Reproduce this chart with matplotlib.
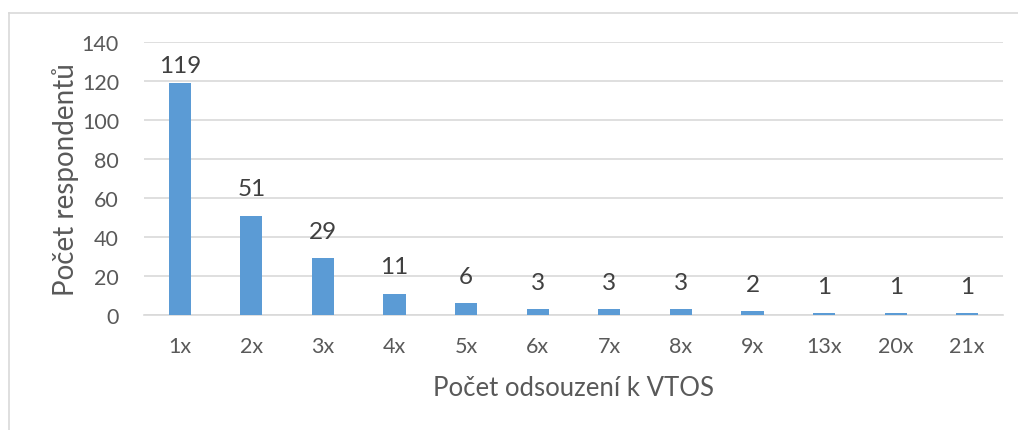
import numpy as np
import matplotlib.pyplot as plt
from matplotlib.lines import Line2D

plt.rcParams['font.family'] = ['Lato', 'DejaVu Sans']

# data
kategorie = ['1x', '2x', '3x', '4x', '5x', '6x', '7x', '8x', '9x', '13x', '20x', '21x']
pocty = [119, 51, 29, 11, 6, 3, 3, 3, 2, 1, 1, 1]

fig = plt.figure(figsize=(10.18, 4.31), dpi=100)
ax = fig.add_axes([144 / 1018, 1 - 316 / 431, (1003 - 144) / 1018, (316 - 43) / 431])

x = np.arange(len(kategorie))
ax.bar(x, pocty, width=0.31, color='#5B9BD5', zorder=3)

# popisky nad sloupci, u nejvyssiho sloupce posunute dolu (jako v Excelu)
for xi, v in zip(x, pocty):
    ax.text(xi, min(v + 13.8, 127.7), str(v), ha='center', va='center',
            fontsize=17.5, color='#404040')

ax.set_xlim(-0.5, len(kategorie) - 0.5)
ax.set_ylim(0, 140)
ax.set_yticks(np.arange(0, 141, 20))
ax.set_xticks(x)
ax.set_xticklabels(kategorie)
ax.tick_params(axis='both', length=0, labelsize=15.5, colors='#595959')
ax.tick_params(axis='x', pad=15)
ax.tick_params(axis='y', pad=18)
ax.grid(axis='y', color='#D9D9D9', linewidth=1.2, zorder=0)
for s in ['top', 'right', 'left']:
    ax.spines[s].set_visible(False)
ax.spines['bottom'].set_color('#D9D9D9')
ax.spines['bottom'].set_linewidth(1.2)

ax.set_xlabel('Počet odsouzení k VTOS', fontsize=18.5, color='#595959', labelpad=14)
ax.set_ylabel('Počet respondentů', fontsize=20, color='#595959', labelpad=2)

# ramecek grafu (oriznuty vpravo a dole)
fig.add_artist(Line2D([9 / 1018, 1], [1 - 14 / 431, 1 - 14 / 431], color='#D9D9D9', lw=1.2))
fig.add_artist(Line2D([9 / 1018, 9 / 1018], [0, 1 - 14 / 431], color='#D9D9D9', lw=1.2))

fig.savefig('out.png', dpi=100)
